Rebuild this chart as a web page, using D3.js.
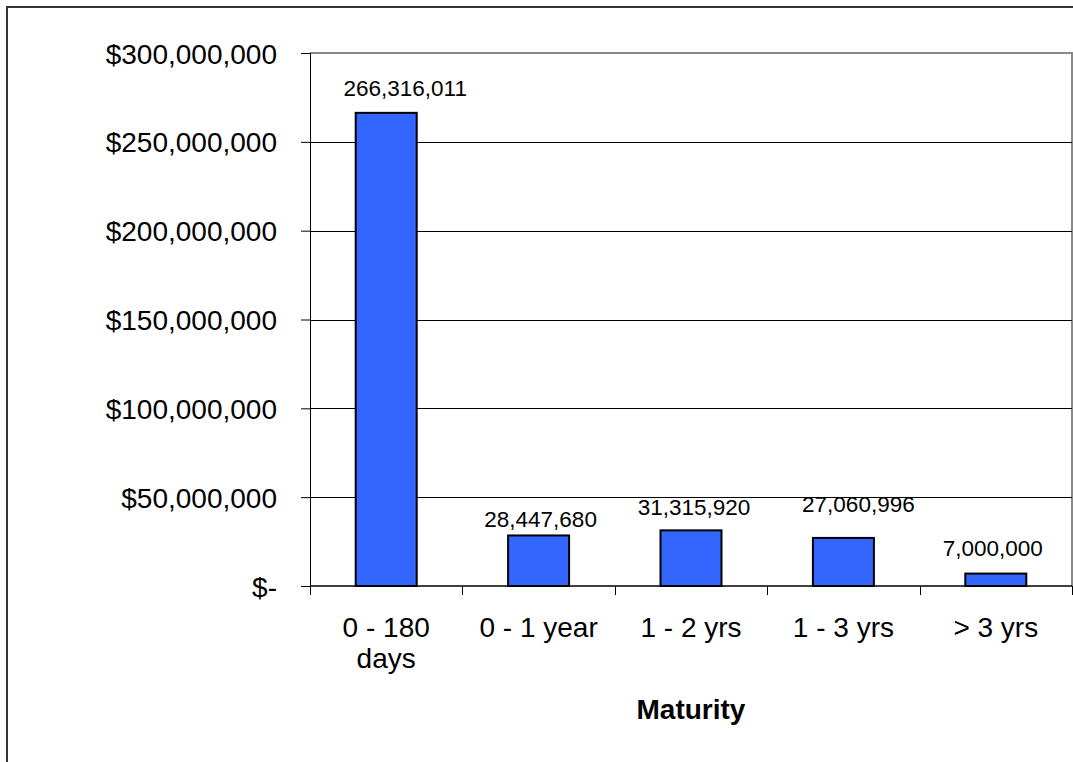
<!DOCTYPE html>
<html>
<head>
<meta charset="utf-8">
<script src="https://cdn.jsdelivr.net/npm/d3@7/dist/d3.min.js"></script>
<style>
  body { margin: 0; background: #fff; }
  svg { display: block; font-family: Arial, "Liberation Sans", sans-serif; }
</style>
</head>
<body>
<svg width="1073" height="762"></svg>
<script>
// chart data
const categories = [["0 - 180", "days"], ["0 - 1 year"], ["1 - 2 yrs"], ["1 - 3 yrs"], ["> 3 yrs"]];
const values = [266316011, 28447680, 31315920, 27060996, 7000000];
const yTicks = [0, 50000000, 100000000, 150000000, 200000000, 250000000, 300000000];
const xTitle = "Maturity";

// data labels were nudged by hand in the original
const labelDx = [19, 2, 3, 15, -3];
const labelGap = [17, 8.5, 15, 26, 18];

function run() {
  let svg = d3.select("svg");
  let pLeft = 310, pRight = 1072, pTop = 53, pBottom = 586;

  // outer frame (only left + top visible)
  svg.append("rect")
    .attr("x", 7).attr("y", 7)
    .attr("width", 1080).attr("height", 770)
    .attr("fill", "none").attr("stroke", "#333").attr("stroke-width", 2);

  let x = d3.scaleBand()
    .domain(d3.range(categories.length))
    .range([pLeft, pRight]);

  let y = d3.scaleLinear()
    .domain([0, 300000000])
    .range([pBottom, pTop]);

  // plot area border
  svg.append("path")
    .attr("d", `M${pLeft},${pTop}H${pRight}V${pBottom}`)
    .attr("fill", "none").attr("stroke", "#888").attr("stroke-width", 2);

  // gridlines
  svg.append("g")
    .selectAll("line")
    .data(yTicks.filter(d => d > 0 && d < 300000000))
    .join("line")
    .attr("x1", pLeft).attr("x2", pRight)
    .attr("y1", d => Math.round(y(d)) + 0.5).attr("y2", d => Math.round(y(d)) + 0.5)
    .attr("stroke", "#000").attr("stroke-width", 1);

  // y axis
  let fmt = d => d === 0 ? "$-" : "$" + d3.format(",")(d);
  let yAxis = svg.append("g")
    .attr("transform", `translate(${pLeft},0)`)
    .call(d3.axisLeft(y).tickValues(yTicks).tickFormat(fmt).tickSize(9).tickPadding(24));
  yAxis.select(".domain").attr("stroke", "#000").attr("stroke-width", 1);
  yAxis.selectAll(".tick line").attr("stroke", "#000");
  yAxis.selectAll("text").attr("font-size", 28).attr("fill", "#000")
    .attr("font-family", "Arial, 'Liberation Sans', sans-serif")
    .attr("dy", "0.36em");

  // bars
  let bw = 61;
  svg.append("g")
    .selectAll("rect")
    .data(values)
    .join("rect")
    .attr("x", (d, i) => x(i) + (x.bandwidth() - bw) / 2)
    .attr("y", d => y(d))
    .attr("width", bw)
    .attr("height", d => pBottom - y(d))
    .attr("fill", "#3366FF")
    .attr("stroke", "#000").attr("stroke-width", 2);

  // x axis
  let xAxis = svg.append("g")
    .attr("transform", `translate(0,${pBottom})`);
  xAxis.append("line")
    .attr("x1", pLeft).attr("x2", pRight)
    .attr("stroke", "#000").attr("stroke-width", 1.5);
  xAxis.selectAll(".tk")
    .data(d3.range(categories.length + 1))
    .join("line")
    .attr("class", "tk")
    .attr("x1", i => Math.round(pLeft + i * x.step()) + 0.5)
    .attr("x2", i => Math.round(pLeft + i * x.step()) + 0.5)
    .attr("y1", 0).attr("y2", 9)
    .attr("stroke", "#000");

  // category labels
  let lab = svg.append("g")
    .selectAll("text")
    .data(categories)
    .join("text")
    .attr("text-anchor", "middle")
    .attr("font-size", 28)
    .attr("x", (d, i) => x(i) + x.bandwidth() / 2)
    .attr("y", 637);
  lab.selectAll("tspan")
    .data(d => d)
    .join("tspan")
    .attr("x", function () { return this.parentNode.getAttribute("x"); })
    .attr("dy", (d, i) => i === 0 ? 0 : 31)
    .text(d => d);

  // value labels
  svg.append("g")
    .selectAll("text")
    .data(values)
    .join("text")
    .attr("text-anchor", "middle")
    .attr("font-size", 22.5)
    .attr("x", (d, i) => x(i) + x.bandwidth() / 2 + labelDx[i])
    .attr("y", (d, i) => y(d) - labelGap[i])
    .text(d => d3.format(",")(d));

  // axis title
  svg.append("text")
    .attr("x", (pLeft + pRight) / 2)
    .attr("y", 719)
    .attr("text-anchor", "middle")
    .attr("font-size", 28)
    .attr("font-weight", "bold")
    .text(xTitle);
}

run();
</script>
</body>
</html>
